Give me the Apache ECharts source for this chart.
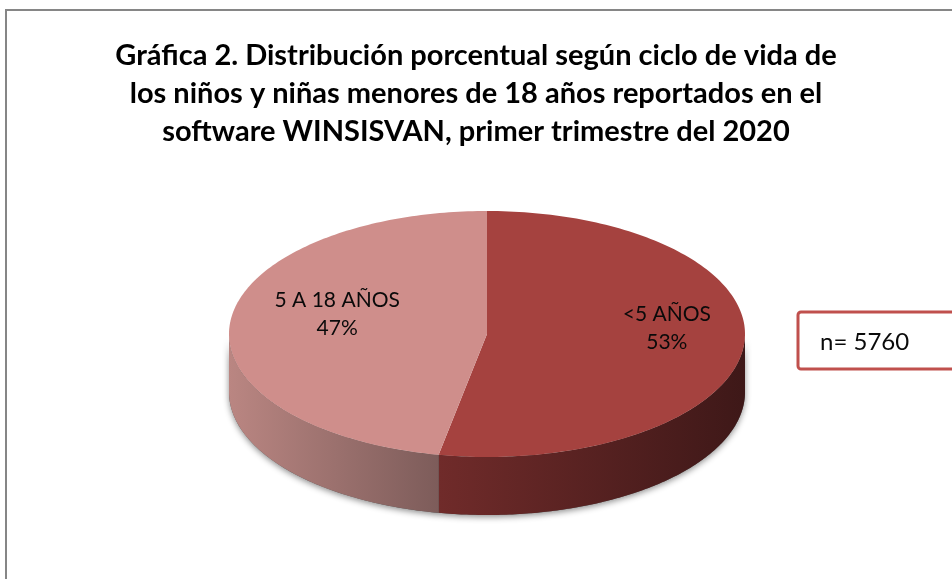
<!DOCTYPE html>
<html><head><meta charset="utf-8">
<script src="https://cdn.jsdelivr.net/npm/echarts@6/dist/echarts.min.js"></script>
<style>html,body{margin:0;padding:0;background:#fff}#c{width:952px;height:579px}</style>
</head><body><div id="c"></div>
<script>
// ---- data ----
const titleLines = [
  'Gráfica 2. Distribución porcentual según ciclo de vida de',
  'los niños y niñas menores de 18 años reportados en el',
  'software WINSISVAN, primer trimestre del 2020'
];
const categories = ['<5 AÑOS', '5 A 18 AÑOS'];
const percentValues = [53, 47];
const sampleNote = 'n= 5760';

// ---- styles / layout ----
const topColors = ['#A5423F', '#CF8E8B'];
const sideColors = [['#702B2A', '#3E1818'], ['#BA8682', '#7D5C5A']];
const labelNudge = [[0, -14], [30, -12]];
const FONT = 'Lato, "Open Sans", sans-serif';
const CX = 487, CY = 334, RX = 258, RY = 123, DEPTH = 58;

const total = percentValues.reduce((a, b) => a + b, 0);
const starts = []; let acc = 0;
percentValues.forEach(v => { starts.push(acc); acc += v; });
const seriesData = percentValues.map((v, i) => ({ name: categories[i], value: [v, starts[i], i] }));

function pt(theta, dy) { return [CX + RX * Math.sin(theta), CY - RY * Math.cos(theta) + (dy || 0)]; }

function renderItem(params, api) {
  const v = api.value(0), s = api.value(1), i = api.value(2);
  const a0 = s / total * 2 * Math.PI, a1 = (s + v) / total * 2 * Math.PI;
  const N = 160;
  const children = [];
  if (i === 0) {
    const sh = [];
    for (let k = 0; k <= N; k++) sh.push(pt(Math.PI / 2 + Math.PI * k / N));
    for (let k = N; k >= 0; k--) sh.push(pt(Math.PI / 2 + Math.PI * k / N, DEPTH));
    children.push({ type: 'polygon', z2: 0, shape: { points: sh },
      style: { fill: '#555', shadowBlur: 6, shadowOffsetY: 2, shadowColor: 'rgba(0,0,0,0.45)' } });
  }
  const s0 = Math.max(a0, Math.PI / 2), s1 = Math.min(a1, 3 * Math.PI / 2);
  if (s1 > s0) {
    const side = [];
    for (let k = 0; k <= N; k++) side.push(pt(s0 + (s1 - s0) * k / N));
    for (let k = N; k >= 0; k--) side.push(pt(s0 + (s1 - s0) * k / N, DEPTH));
    children.push({ type: 'polygon', z2: 1, shape: { points: side },
      style: { fill: new echarts.graphic.LinearGradient(0, 0, 1, 0,
        [{ offset: 0, color: sideColors[i][0] }, { offset: 1, color: sideColors[i][1] }]) } });
  }
  const top = [[CX, CY]];
  for (let k = 0; k <= N; k++) top.push(pt(a0 + (a1 - a0) * k / N));
  children.push({ type: 'polygon', z2: 2, shape: { points: top }, style: { fill: topColors[i] } });
  const mid = (a0 + a1) / 2;
  children.push({ type: 'text', z2: 3,
    x: CX + RX * 0.7 * Math.sin(mid) + labelNudge[i][0],
    y: CY - RY * 0.7 * Math.cos(mid) + labelNudge[i][1],
    style: { text: categories[i] + '\n' + Math.round(v / total * 100) + '%',
      align: 'center', verticalAlign: 'middle', font: '21px ' + FONT, lineHeight: 28, fill: '#0a0a0a' } });
  return { type: 'group', children };
}

const chart = echarts.init(document.getElementById('c'), null, { renderer: 'canvas' });
chart.setOption({
  backgroundColor: '#fff',
  animation: false,
  title: {
    text: titleLines.join('\n'), left: 'center', top: 32,
    textStyle: { fontFamily: FONT, fontWeight: 'bold', fontSize: 29, lineHeight: 38, color: '#000' }
  },
  graphic: [
    { type: 'rect', z: -10, shape: { x: 6, y: 10, width: 1000, height: 700 },
      style: { fill: 'none', stroke: '#868686', lineWidth: 2 } },
    { type: 'rect', shape: { x: 798, y: 312, width: 200, height: 57, r: 3 },
      style: { fill: '#fff', stroke: '#C0504D', lineWidth: 3 } },
    { type: 'text', x: 820, y: 342,
      style: { text: sampleNote, font: '24px ' + FONT, fill: '#0a0a0a', verticalAlign: 'middle' } }
  ],
  series: [{ type: 'custom', coordinateSystem: 'none', renderItem, data: seriesData }]
});
</script></body></html>
